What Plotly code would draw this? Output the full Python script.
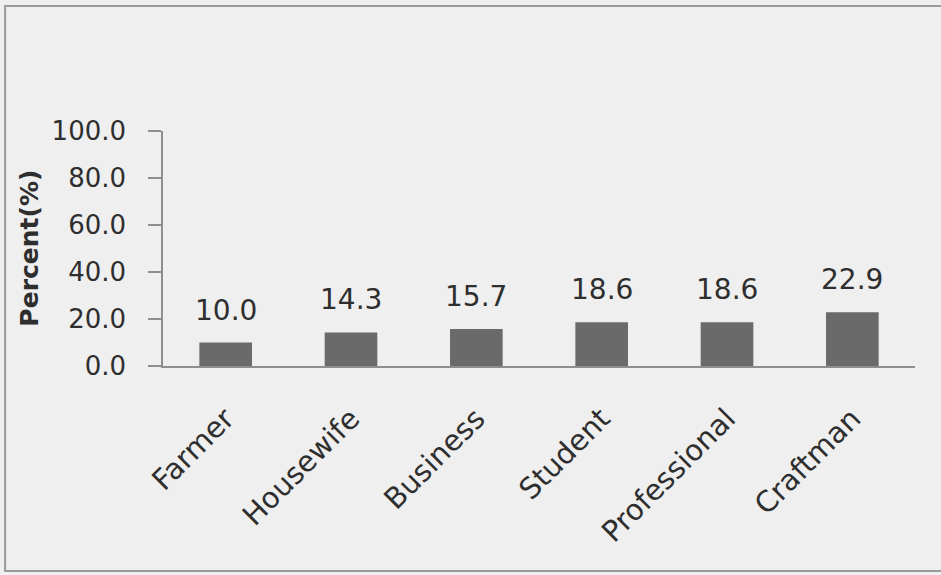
import plotly.graph_objects as go

# Occupation distribution of respondents
occupations = ["Farmer", "Housewife", "Business", "Student", "Professional", "Craftman"]
percent = [10.0, 14.3, 15.7, 18.6, 18.6, 22.9]
y_ticks = [0, 20, 40, 60, 80, 100]
y_tick_labels = ["0.0", "20.0", "40.0", "60.0", "80.0", "100.0"]

FONT = "DejaVu Sans"
TEXT = "#2e2e2e"
BG = "#efefef"
AXIS = "#8e8e8e"

fig = go.Figure(
    go.Bar(
        x=occupations,
        y=percent,
        width=0.42,
        marker=dict(color="#6a6a6a", line=dict(width=0)),
        hoverinfo="skip",
    )
)

# Value labels above each bar
for occ, val in zip(occupations, percent):
    fig.add_annotation(
        x=occ, y=val, text=f"{val:.1f}", showarrow=False,
        yanchor="bottom", yshift=14,
        font=dict(family=FONT, size=28, color=TEXT),
    )

# Vertical axis title
fig.add_annotation(
    xref="paper", yref="paper", x=-0.178, y=0.50,
    xanchor="center", yanchor="middle",
    text="<b>Percent(%)</b>", textangle=-90, showarrow=False,
    font=dict(family=FONT, size=25, color=TEXT),
)

# Outer frame (right edge runs off the page)
fig.add_shape(
    type="rect", xref="paper", yref="paper",
    x0=-0.210, x1=1.06, y0=-0.872, y1=1.532,
    line=dict(color="#9a9a9a", width=2), fillcolor="rgba(0,0,0,0)",
)

fig.update_layout(
    width=941, height=575,
    margin=dict(l=163, r=26, t=131, b=209),
    paper_bgcolor=BG, plot_bgcolor=BG,
    showlegend=False,
    font=dict(family=FONT, size=26, color=TEXT),
)
fig.update_xaxes(
    showline=True, linecolor=AXIS, linewidth=2,
    ticks="", tickangle=-45, showgrid=False,
    ticklabelstandoff=22,
    tickfont=dict(family=FONT, size=29, color=TEXT),
)
fig.update_yaxes(
    range=[0, 100], tickvals=y_ticks, ticktext=y_tick_labels,
    showline=True, linecolor=AXIS, linewidth=1.5,
    ticks="outside", ticklen=13, tickcolor=AXIS, tickwidth=1.5,
    ticklabelstandoff=17,
    showgrid=False, zeroline=False,
    tickfont=dict(family=FONT, size=26, color=TEXT),
)

fig.write_html("out.html")
